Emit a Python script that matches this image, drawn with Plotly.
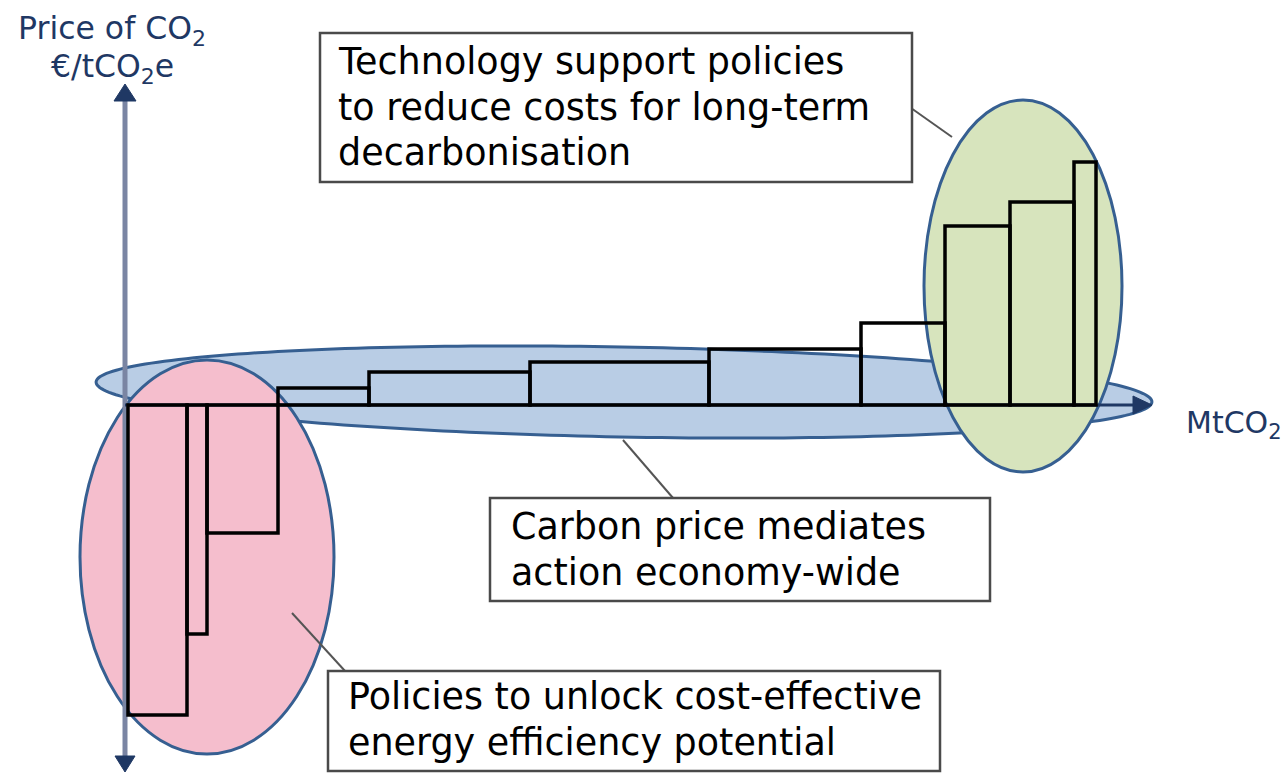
import numpy as np
import plotly.graph_objects as go

# ---------------- data (schematic MAC curve) ----------------
# abatement potential per measure (MtCO2, schematic units)
widths = [59, 20, 71, 91, 161, 179, 152, 84, 65, 64, 22]
# abatement cost per measure (EUR/tCO2e, schematic units)
costs = [-310, -229, -128, 17, 33, 43, 56, 82, 179, 203, 243]

box_texts = {
    "tech": ["Technology support policies", "to reduce costs for long-term", "decarbonisation"],
    "carbon": ["Carbon price mediates", "action economy-wide"],
    "eff": ["Policies to unlock cost-effective", "energy efficiency potential"],
}
y_label = ["Price of CO<sub>2</sub>", "€/tCO<sub>2</sub>e"]
x_label = "MtCO<sub>2</sub>"

# ---------------- geometry helpers ----------------
OX, OY = 128, 405  # pixel location of origin


def X(px):
    return px - OX


def Y(py):
    return OY - py


edges = np.concatenate([[0], np.cumsum(widths)])
centers = (edges[:-1] + edges[1:]) / 2

FONT = "DejaVu Sans"
NAVY = "#1F3864"
OUTLINE = "#365F91"

fig = go.Figure()
fig.add_trace(go.Bar(
    x=centers, y=costs, width=widths,
    marker=dict(color="rgba(0,0,0,0)", line=dict(color="black", width=3.5)),
    hoverinfo="skip", showlegend=False,
))

shapes = []

# tilted blue ellipse (carbon price)
cx, cy, a, b, phi = 624, 392, 528, 45, 0.0188
t = np.linspace(0, 2 * np.pi, 240)
ex = cx + a * np.cos(t) * np.cos(phi) - b * np.sin(t) * np.sin(phi)
ey = cy + a * np.cos(t) * np.sin(phi) + b * np.sin(t) * np.cos(phi)
path = "M " + " L ".join(f"{X(u):.2f},{Y(v):.2f}" for u, v in zip(ex, ey)) + " Z"
shapes.append(dict(type="path", path=path, xref="x", yref="y", layer="below",
                   fillcolor="#B9CDE5", line=dict(color=OUTLINE, width=3)))
# pink ellipse (energy efficiency)
shapes.append(dict(type="circle", xref="x", yref="y", layer="below",
                   x0=X(80), x1=X(334), y0=Y(754), y1=Y(360),
                   fillcolor="#F5BECD", line=dict(color=OUTLINE, width=3)))
# green ellipse (technology)
shapes.append(dict(type="circle", xref="x", yref="y", layer="below",
                   x0=X(924), x1=X(1122), y0=Y(472), y1=Y(100),
                   fillcolor="#D7E4BD", line=dict(color=OUTLINE, width=3)))

# y axis (double arrow)
shapes.append(dict(type="line", xref="x", yref="y", layer="below",
                   x0=X(125), x1=X(125), y0=Y(96), y1=Y(760),
                   line=dict(color="#7A85A3", width=5)))
shapes.append(dict(type="path", xref="x", yref="y", layer="below",
                   path=f"M {X(125)},{Y(84)} L {X(136)},{Y(101)} L {X(114)},{Y(101)} Z",
                   fillcolor=NAVY, line=dict(color=NAVY, width=1)))
shapes.append(dict(type="path", xref="x", yref="y", layer="below",
                   path=f"M {X(125)},{Y(772)} L {X(135)},{Y(756)} L {X(115)},{Y(756)} Z",
                   fillcolor=NAVY, line=dict(color=NAVY, width=1)))
# x axis arrow
shapes.append(dict(type="line", xref="x", yref="y", layer="below",
                   x0=X(125), x1=X(1138), y0=0, y1=0,
                   line=dict(color=NAVY, width=3)))
shapes.append(dict(type="path", xref="x", yref="y", layer="below",
                   path=f"M {X(1152)},{Y(405)} L {X(1133)},{Y(396)} L {X(1133)},{Y(414)} Z",
                   fillcolor=NAVY, line=dict(color=NAVY, width=1)))

# connector lines
for (x0, y0, x1, y1) in [(911, 108, 952, 137), (623, 440, 673, 498), (292, 613, 345, 671)]:
    shapes.append(dict(type="line", xref="x", yref="y", layer="above",
                       x0=X(x0), y0=Y(y0), x1=X(x1), y1=Y(y1),
                       line=dict(color="#555555", width=2)))

# text boxes
boxes = {"tech": (320, 33, 912, 182), "carbon": (490, 498, 990, 601), "eff": (328, 671, 940, 771)}
for key, (x0, y0, x1, y1) in boxes.items():
    shapes.append(dict(type="rect", xref="x", yref="y", layer="above",
                       x0=X(x0), y0=Y(y0), x1=X(x1), y1=Y(y1),
                       fillcolor="white", line=dict(color="#4A4A4A", width=2.5)))

annotations = []
text_pos = {"tech": (336, [61, 107, 152]), "carbon": (509, [526, 572]), "eff": (346, [696, 742])}
for key, (tx, ys) in text_pos.items():
    for line, ty in zip(box_texts[key], ys):
        annotations.append(dict(x=X(tx), y=Y(ty), xref="x", yref="y", text=line,
                                showarrow=False, xanchor="left", yanchor="middle",
                                font=dict(family=FONT, size=36.5, color="black")))

for line, ty in zip(y_label, [30, 68]):
    annotations.append(dict(x=X(112), y=Y(ty), xref="x", yref="y", text=line,
                            showarrow=False, xanchor="center", yanchor="middle",
                            font=dict(family=FONT, size=31.5, color=NAVY)))
annotations.append(dict(x=X(1184), y=Y(424), xref="x", yref="y", text=x_label,
                        showarrow=False, xanchor="left", yanchor="middle",
                        font=dict(family=FONT, size=30, color=NAVY)))

fig.update_layout(
    width=1288, height=774,
    margin=dict(l=0, r=0, t=0, b=0),
    paper_bgcolor="white", plot_bgcolor="white",
    xaxis=dict(range=[X(0), X(1288)], visible=False, fixedrange=True),
    yaxis=dict(range=[Y(774), Y(0)], visible=False, fixedrange=True),
    shapes=shapes, annotations=annotations,
    showlegend=False,
)

fig.write_html(
    "out.html",
    config={"displayModeBar": False, "staticPlot": True},
    post_script="document.body.style.margin='0';document.body.style.overflow='hidden';",
)
